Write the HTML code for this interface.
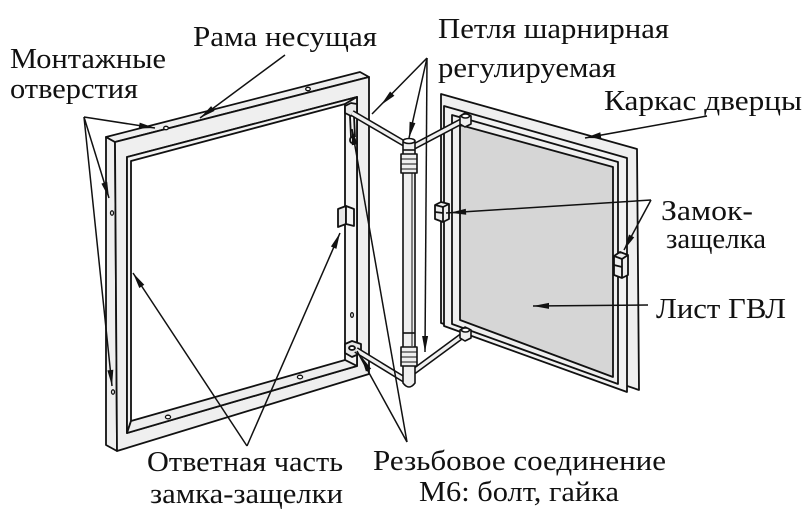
<!DOCTYPE html>
<html><head><meta charset="utf-8">
<style>
html,body{margin:0;padding:0;background:#fff;}
svg{display:block;}
text{font-family:"Liberation Serif","Noto Serif CJK SC",serif;font-size:28px;fill:#111;}
</style></head><body>
<svg width="812" height="517" viewBox="0 0 812 517" xmlns="http://www.w3.org/2000/svg">
<g stroke="#111" stroke-width="1.8" stroke-linejoin="round" fill="#efefef">
<!-- LEFT FRAME -->
<polygon points="106,137 115,142 117,451 106,445"/>
<polygon points="106,137 360,72 369,77 115,142"/>
<path fill-rule="evenodd" d="M115,142 L369,77 L369,374 L117,451 Z M127,157 L357,97 L357,366 L127,433 Z"/>
<polygon points="127,157 357,97 345,104 131,161 131,421 127,433" fill="#f3f3f3"/>
<polygon points="345,104 357,97 357,366 345,360" fill="#f5f5f5"/>
<polygon points="127,433 131,421 345,360 357,366" fill="#ededed"/>
<!-- holes -->
<g fill="#fff" stroke-width="1.3">
<ellipse cx="166" cy="128" rx="2.3" ry="1.7"/>
<ellipse cx="308" cy="89" rx="2.3" ry="1.7"/>
<ellipse cx="112" cy="213" rx="1.5" ry="2.2"/>
<ellipse cx="113" cy="392" rx="1.5" ry="2.2"/>
<ellipse cx="168" cy="417" rx="2.6" ry="1.8"/>
<ellipse cx="300" cy="377" rx="2.6" ry="1.8"/>
<ellipse cx="352" cy="315" rx="1.4" ry="2.3"/>
</g>
<!-- upper hinge block on frame -->
<polygon points="345,106 351,103 357,104 357,113 351,116 345,113" fill="#e8e8e8"/>
<line x1="350" y1="116" x2="351" y2="137"/>
<line x1="354" y1="116" x2="355" y2="137"/>
<ellipse cx="352" cy="140" rx="2" ry="3" fill="#fff"/>
<!-- strike plate -->
<polygon points="338,209 346,206 346,224 338,227" fill="#e6e6e6"/>
<polygon points="346,206 354,209 354,226 346,224" fill="#f4f4f4"/>
<!-- lower hinge block on frame -->
<polygon points="345,344 352,341 361,344 361,353 352,357 345,353" fill="#e8e8e8"/>
<ellipse cx="352" cy="348" rx="3" ry="2" fill="#fff"/>

<!-- DOOR -->
<polygon points="441,94 637,149 639,390 441,323"/>
<polygon points="444,106 627,158 627,392 444,326" fill="#f2f2f2"/>
<polygon points="452,115 618,162 618,384 452,324" fill="#efefef"/>
<polygon points="460,125 613,167 613,377 460,320" fill="#d6d6d6"/>
<!-- door locks -->
<polygon points="435,205 441,202 449,204 449,219 443,222 435,219" fill="#eeeeee"/>
<polyline points="435,205 443,207 449,204" fill="none"/>
<line x1="443" y1="207" x2="443" y2="222"/>
<line x1="435" y1="212" x2="443" y2="213"/>
<polygon points="614,256 620,252 628,255 628,275 622,278 614,275" fill="#eeeeee"/>
<polyline points="614,256 622,259 628,255" fill="none"/>
<line x1="622" y1="259" x2="622" y2="278"/>
<line x1="614" y1="265" x2="622" y2="267"/>
</g>

<!-- ARMS -->
<g stroke-linecap="butt">
<line x1="352" y1="113" x2="405" y2="144" stroke="#111" stroke-width="6.5"/>
<line x1="352" y1="113" x2="405" y2="144" stroke="#f0f0f0" stroke-width="3.4"/>
<line x1="413" y1="147" x2="466" y2="119" stroke="#111" stroke-width="6.5"/>
<line x1="413" y1="147" x2="466" y2="119" stroke="#f0f0f0" stroke-width="3.4"/>
<line x1="356" y1="350" x2="405" y2="380" stroke="#111" stroke-width="6.5"/>
<line x1="356" y1="350" x2="405" y2="380" stroke="#f0f0f0" stroke-width="3.4"/>
<line x1="413" y1="372" x2="466" y2="333" stroke="#111" stroke-width="6.5"/>
<line x1="413" y1="372" x2="466" y2="333" stroke="#f0f0f0" stroke-width="3.4"/>
</g>
<g stroke="#111" stroke-width="1.6" stroke-linejoin="round" fill="#eeeeee">
<!-- door hinge blocks -->
<polygon points="460,116 465,113 471,116 471,124 465,127 460,124"/>
<ellipse cx="465.5" cy="116" rx="4" ry="2" fill="#fff"/>
<polygon points="460,330 465,327 471,330 471,338 465,341 460,338"/>
<ellipse cx="465.5" cy="330" rx="4" ry="2" fill="#fff"/>
<!-- POST -->
<path d="M403,142 L403,383 Q409,391 415,383 L415,142 Z" fill="#efefef"/>
<line x1="412" y1="173" x2="412" y2="346" stroke-width="1"/>
<ellipse cx="409" cy="141" rx="6" ry="2.5" fill="#fff"/>
<line x1="403" y1="150" x2="415" y2="150"/>
<rect x="401" y="154" width="16" height="19"/>
<line x1="401" y1="159" x2="417" y2="159" stroke-width="1"/>
<line x1="401" y1="164" x2="417" y2="164" stroke-width="1"/>
<line x1="401" y1="169" x2="417" y2="169" stroke-width="1"/>
<line x1="403" y1="333" x2="415" y2="333"/>
<rect x="401" y="347" width="16" height="19"/>
<line x1="401" y1="352" x2="417" y2="352" stroke-width="1"/>
<line x1="401" y1="357" x2="417" y2="357" stroke-width="1"/>
<line x1="401" y1="362" x2="417" y2="362" stroke-width="1"/>
</g>

<!-- LEADERS -->
<g stroke="#111" stroke-width="1.5" fill="none">
<line x1="84" y1="117" x2="155" y2="128"/>
<line x1="84" y1="117" x2="109" y2="198"/>
<line x1="84" y1="117" x2="112" y2="386"/>
<line x1="285" y1="55" x2="200" y2="118"/>
<line x1="427" y1="58" x2="372" y2="114"/>
<line x1="427" y1="58" x2="409" y2="138"/>
<line x1="427" y1="58" x2="425" y2="352"/>
<line x1="707" y1="116" x2="585" y2="138"/>
<line x1="651" y1="200" x2="446" y2="213"/>
<line x1="651" y1="200" x2="624" y2="250"/>
<line x1="648" y1="305" x2="533" y2="306"/>
<line x1="247" y1="446" x2="133" y2="273"/>
<line x1="247" y1="446" x2="340" y2="233"/>
<line x1="407" y1="442" x2="357" y2="351"/>
<line x1="407" y1="442" x2="352" y2="129"/>
</g>
<g fill="#111" stroke="none">
<polygon points="155,128 138.7,128.5 139.7,122.6"/>
<polygon points="109,198 101.4,183.6 107.2,181.8"/>
<polygon points="112,386 107.4,370.4 113.3,369.8"/>
<polygon points="200,118 211.1,106.1 214.6,110.9"/>
<polygon points="381,105 390.1,91.5 394.4,95.7"/>
<polygon points="409,138 409.6,121.7 415.4,123.1"/>
<polygon points="425,352 422.1,336 428.1,336"/>
<polygon points="585,138 600.3,132.3 601.3,138.3"/>
<polygon points="450,212.7 465.8,208.7 466.2,214.7"/>
<polygon points="624,250 629,234.5 634.2,237.4"/>
<polygon points="533,306 549,302.9 549,308.9"/>
<polygon points="133,273 144.3,284.7 139.3,288"/>
<polygon points="340,233 336.4,248.9 330.9,246.5"/>
<polygon points="361,356 371.2,368.7 365.9,371.5"/>
<polygon points="352,129 357.7,144.2 351.8,145.3"/>
</g>

<!-- TEXT -->
<g font-family="Liberation Serif, serif" font-size="28">
<text x="10" y="68" textLength="156" lengthAdjust="spacingAndGlyphs">Монтажные</text>
<text x="10" y="98" textLength="128" lengthAdjust="spacingAndGlyphs">отверстия</text>
<text x="193" y="46" textLength="184" lengthAdjust="spacingAndGlyphs">Рама несущая</text>
<text x="438" y="38" textLength="231" lengthAdjust="spacingAndGlyphs">Петля шарнирная</text>
<text x="438" y="77" textLength="178" lengthAdjust="spacingAndGlyphs">регулируемая</text>
<text x="604" y="110" textLength="198" lengthAdjust="spacingAndGlyphs">Каркас дверцы</text>
<text x="661" y="220" textLength="92" lengthAdjust="spacingAndGlyphs">Замок-</text>
<text x="666" y="248" textLength="100" lengthAdjust="spacingAndGlyphs">защелка</text>
<text x="656" y="318" textLength="130" lengthAdjust="spacingAndGlyphs">Лист ГВЛ</text>
<text x="147" y="471" textLength="196" lengthAdjust="spacingAndGlyphs">Ответная часть</text>
<text x="150" y="503" textLength="193" lengthAdjust="spacingAndGlyphs">замка-защелки</text>
<text x="373" y="470" textLength="293" lengthAdjust="spacingAndGlyphs">Резьбовое соединение</text>
<text x="419" y="501" textLength="200" lengthAdjust="spacingAndGlyphs">М6: болт, гайка</text>
</g>
</svg>
</body></html>
